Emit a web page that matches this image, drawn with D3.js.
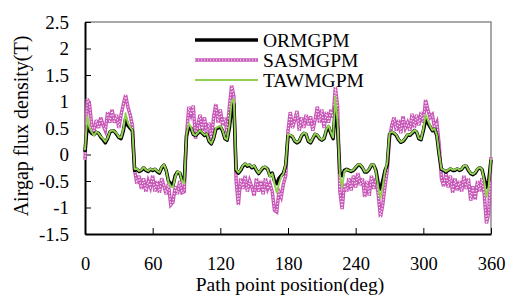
<!DOCTYPE html>
<html>
<head>
<meta charset="utf-8">
<script src="https://cdn.jsdelivr.net/npm/d3@7"></script>
<style>
  html, body { margin: 0; padding: 0; background: #fff; }
  svg { display: block; font-family: 'Liberation Serif', 'Times New Roman', serif; }
</style>
</head>
<body>
<div id="chart"></div>
<script>
// path position in degrees, one sample every 2 deg
const positions = d3.range(0, 361, 2);

const seriesNames = ['ORMGPM', 'SASMGPM', 'TAWMGPM'];

const ormgpm = [
  0.05, 0.55, 0.45, 0.40, 0.38, 0.42, 0.40, 0.33, 0.28, 0.22,
  0.30, 0.42, 0.45, 0.44, 0.38, 0.32, 0.30, 0.45, 0.68, 0.55,
  0.50, 0.45, -0.30, -0.28, -0.32, -0.30, -0.25, -0.30, -0.32, -0.28,
  -0.30, -0.28, -0.32, -0.35, -0.25, -0.20, -0.30, -0.50, -0.55, -0.58,
  -0.40, -0.33, -0.35, -0.48, -0.50, 0.35, 0.52, 0.50, 0.38, 0.36,
  0.40, 0.45, 0.40, 0.36, 0.38, 0.25, 0.20, 0.30, 0.48, 0.50,
  0.52, 0.45, 0.30, 0.27, 0.50, 0.85, 0.95, -0.30, -0.35, -0.30,
  -0.22, -0.18, -0.22, -0.20, -0.25, -0.22, -0.30, -0.36, -0.30, -0.25,
  -0.24, -0.28, -0.40, -0.35, -0.50, -0.55, -0.45, -0.40, -0.35, -0.20,
  0.35, 0.36, 0.33, 0.25, 0.22, 0.25, 0.35, 0.40, 0.38, 0.25,
  0.22, 0.30, 0.38, 0.36, 0.30, 0.27, 0.30, 0.45, 0.52, 0.40,
  0.30, 0.90, 0.50, -0.35, -0.40, -0.30, -0.28, -0.30, -0.32, -0.30,
  -0.25, -0.20, -0.20, -0.25, -0.33, -0.33, -0.28, -0.20, -0.20, -0.30,
  -0.55, -0.65, -0.50, -0.30, -0.20, 0.38, 0.42, 0.40, 0.36, 0.28,
  0.23, 0.25, 0.30, 0.37, 0.36, 0.40, 0.45, 0.42, 0.30, 0.28,
  0.45, 0.65, 0.60, 0.52, 0.45, 0.48, 0.35, 0.00, -0.28, -0.30,
  -0.33, -0.30, -0.27, -0.30, -0.30, -0.27, -0.30, -0.28, -0.22, -0.22,
  -0.30, -0.36, -0.38, -0.35, -0.28, -0.25, -0.28, -0.45, -0.62, -0.50,
  -0.10,
];

const sasmgpm = [
  -0.10, 1.05, 0.95, 0.55, 0.45, 0.65, 0.50, 0.70, 0.55, 0.45,
  0.80, 0.60, 0.85, 0.60, 0.75, 0.50, 0.75, 0.95, 1.12, 0.90,
  0.75, 0.55, -0.30, -0.55, -0.40, -0.65, -0.45, -0.70, -0.50, -0.62,
  -0.40, -0.70, -0.50, -0.72, -0.45, -0.60, -0.75, -0.55, -0.95, -0.90,
  -0.60, -0.75, -0.50, -0.72, -0.70, 0.35, 0.90, 0.75, 0.92, 0.30,
  0.55, 0.75, 0.45, 0.70, 0.35, 0.60, 0.25, 0.70, 0.95, 0.60,
  0.85, 0.55, 0.70, 0.40, 0.90, 1.30, 1.10, -0.50, -0.95, -0.45,
  -0.65, -0.40, -0.70, -0.50, -0.62, -0.78, -0.45, -0.70, -0.50, -0.75,
  -0.45, -0.65, -0.55, -0.70, -1.05, -1.08, -0.70, -0.80, -0.55, -0.40,
  0.45, 0.80, 0.50, 0.65, 0.82, 0.45, 0.70, 0.50, 0.75, 0.55,
  0.72, 0.45, 0.65, 0.90, 0.60, 0.85, 0.50, 0.80, 0.60, 0.85,
  0.70, 1.27, 0.90, -0.70, -1.03, -0.55, -0.70, -0.45, -0.68, -0.40,
  -0.62, -0.35, -0.58, -0.45, -0.80, -0.50, -0.78, -0.40, -0.65, -0.45,
  -0.75, -1.18, -0.95, -0.60, -0.30, 0.30, 0.55, 0.70, 0.45, 0.65,
  0.40, 0.72, 0.50, 0.60, 0.45, 0.77, 0.50, 0.75, 0.55, 0.80,
  0.60, 1.03, 0.85, 0.70, 0.75, 0.50, 0.60, 0.20, -0.45, -0.60,
  -0.35, -0.62, -0.40, -0.72, -0.45, -0.68, -0.50, -0.70, -0.40, -0.65,
  -0.45, -0.87, -0.60, -0.85, -0.50, -0.70, -0.45, -0.75, -1.30, -1.10,
  -0.05,
];

const tawmgpm = [
  0.08, 0.72, 0.50, 0.42, 0.36, 0.43, 0.40, 0.34, 0.30, 0.24,
  0.31, 0.43, 0.46, 0.44, 0.40, 0.33, 0.32, 0.48, 0.78, 0.60,
  0.52, 0.46, -0.28, -0.27, -0.31, -0.29, -0.24, -0.29, -0.31, -0.27,
  -0.29, -0.27, -0.31, -0.34, -0.24, -0.19, -0.30, -0.52, -0.60, -0.62,
  -0.42, -0.32, -0.34, -0.50, -0.55, 0.38, 0.58, 0.52, 0.39, 0.36,
  0.41, 0.46, 0.41, 0.37, 0.39, 0.26, 0.21, 0.31, 0.50, 0.52,
  0.54, 0.46, 0.31, 0.28, 0.55, 1.00, 1.05, -0.28, -0.34, -0.29,
  -0.21, -0.17, -0.21, -0.19, -0.24, -0.21, -0.29, -0.35, -0.29, -0.24,
  -0.23, -0.28, -0.42, -0.36, -0.55, -0.72, -0.55, -0.42, -0.36, -0.18,
  0.38, 0.37, 0.34, 0.26, 0.23, 0.26, 0.36, 0.41, 0.39, 0.26,
  0.23, 0.31, 0.39, 0.37, 0.31, 0.28, 0.31, 0.47, 0.55, 0.42,
  0.32, 1.10, 0.60, -0.40, -0.62, -0.32, -0.28, -0.30, -0.31, -0.29,
  -0.24, -0.19, -0.19, -0.24, -0.32, -0.32, -0.27, -0.19, -0.19, -0.32,
  -0.62, -0.82, -0.60, -0.32, -0.15, 0.40, 0.43, 0.41, 0.37, 0.29,
  0.24, 0.26, 0.31, 0.38, 0.37, 0.41, 0.46, 0.43, 0.31, 0.29,
  0.48, 0.75, 0.65, 0.54, 0.46, 0.49, 0.36, 0.02, -0.27, -0.29,
  -0.32, -0.29, -0.26, -0.29, -0.29, -0.26, -0.29, -0.27, -0.21, -0.21,
  -0.29, -0.35, -0.37, -0.34, -0.27, -0.24, -0.28, -0.50, -0.80, -0.60,
  -0.08,
];

const xTicks = [0, 60, 120, 180, 240, 300, 360];
const yTicks = [-1.5, -1, -0.5, 0, 0.5, 1, 1.5, 2, 2.5];

const WIDTH = 507;
const HEIGHT = 295;
const margin = { top: 22, right: 16, bottom: 61, left: 85 };

const PINK = '#c858b8';
const GREEN = '#92d050';

const svg = d3.select('#chart')
  .append('svg')
  .attr('width', WIDTH)
  .attr('height', HEIGHT);

const xScale = d3.scaleLinear()
  .domain([0, 360])
  .range([margin.left, WIDTH - margin.right]);

const yScale = d3.scaleLinear()
  .domain([-1.5, 2.5])
  .range([HEIGHT - margin.bottom, margin.top]);

// grey frame on top and right
svg.append('path')
  .attr('d', `M${xScale(0)},${yScale(2.5)}H${xScale(360)}V${yScale(-1.5)}`)
  .attr('fill', 'none')
  .attr('stroke', '#8c8c8c')
  .attr('stroke-width', 1.5);

const xAxis = d3.axisBottom(xScale)
  .tickValues(xTicks)
  .tickSizeInner(-6)
  .tickSizeOuter(0)
  .tickPadding(22.5);

const yAxis = d3.axisLeft(yScale)
  .tickValues(yTicks)
  .tickFormat(d3.format('~g'))
  .tickSizeInner(-6)
  .tickSizeOuter(0)
  .tickPadding(16);

const gx = svg.append('g')
  .attr('transform', `translate(0,${yScale(-1.5)})`)
  .call(xAxis);

const gy = svg.append('g')
  .attr('transform', `translate(${xScale(0)},0)`)
  .call(yAxis);

[gx, gy].forEach((g) => {
  g.select('.domain').attr('stroke', '#000').attr('stroke-width', 2);
  g.selectAll('.tick line').attr('stroke', '#000').attr('stroke-width', 1);
  g.selectAll('.tick text')
    .attr('fill', '#000')
    .style('font-family', "'Liberation Serif', serif")
    .style('font-size', '19px');
});
gx.selectAll('.tick text').style('font-size', '18.5px');
// plain hyphen for negatives, like the original
gy.selectAll('.tick text').text((d) => String(d));

const line = (values) => d3.line()
  .x((d, i) => xScale(positions[i]))
  .y((d) => yScale(d))(values);

const plot = svg.append('g');

// SASMGPM: thick pink with hollow square look
plot.append('path')
  .attr('d', line(sasmgpm))
  .attr('fill', 'none')
  .attr('stroke', PINK)
  .attr('stroke-width', 3.5)
  .attr('stroke-linejoin', 'miter');
plot.append('path')
  .attr('d', line(sasmgpm))
  .attr('fill', 'none')
  .attr('stroke', '#fff')
  .attr('stroke-width', 1.1)
  .attr('stroke-dasharray', '1.2,1.8');

plot.append('path')
  .attr('d', line(ormgpm))
  .attr('fill', 'none')
  .attr('stroke', '#000')
  .attr('stroke-width', 3.5)
  .attr('stroke-linejoin', 'round');

plot.append('path')
  .attr('d', line(tawmgpm))
  .attr('fill', 'none')
  .attr('stroke', GREEN)
  .attr('stroke-width', 2)
  .attr('stroke-linejoin', 'round');

// legend
const legend = svg.append('g').attr('transform', 'translate(195,40)');
const ROW = 20;

legend.append('line')
  .attr('x1', 0).attr('x2', 63).attr('y1', 0).attr('y2', 0)
  .attr('stroke', '#000').attr('stroke-width', 3.5);
legend.append('line')
  .attr('x1', 0).attr('x2', 63).attr('y1', ROW).attr('y2', ROW)
  .attr('stroke', PINK).attr('stroke-width', 3.5);
legend.append('line')
  .attr('x1', 0).attr('x2', 63).attr('y1', ROW).attr('y2', ROW)
  .attr('stroke', '#fff').attr('stroke-width', 1.1)
  .attr('stroke-dasharray', '1.2,1.8');
legend.append('line')
  .attr('x1', 0).attr('x2', 63).attr('y1', ROW * 2).attr('y2', ROW * 2)
  .attr('stroke', GREEN).attr('stroke-width', 2);

legend.selectAll('text')
  .data(seriesNames)
  .enter().append('text')
  .attr('x', 68)
  .attr('y', (d, i) => i * ROW + 6.5)
  .style('font-size', '19.5px')
  .attr('fill', '#000')
  .text((d) => d);

// axis titles
svg.append('text')
  .attr('x', 290)
  .attr('y', 290.5)
  .attr('text-anchor', 'middle')
  .style('font-size', '19.5px')
  .text('Path point position(deg)');

svg.append('text')
  .attr('transform', 'translate(28,126) rotate(-90)')
  .attr('text-anchor', 'middle')
  .style('font-size', '20px')
  .text('Airgap flux density(T)');
</script>
</body>
</html>
